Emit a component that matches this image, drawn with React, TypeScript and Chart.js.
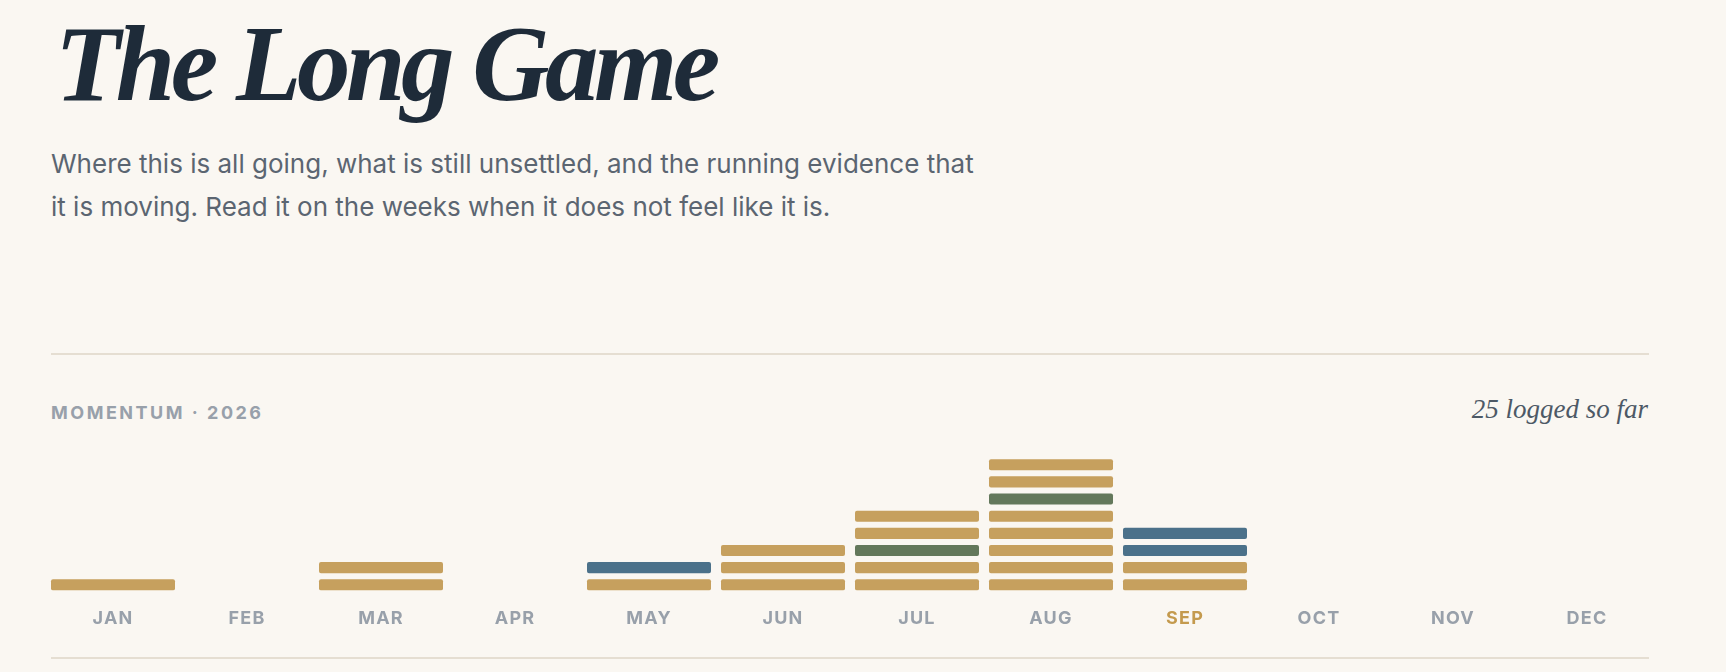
import { useEffect, useRef } from "react";
import { Chart, registerables } from "chart.js";

Chart.register(...registerables);

const months = ["JAN", "FEB", "MAR", "APR", "MAY", "JUN", "JUL", "AUG", "SEP", "OCT", "NOV", "DEC"];

// what was logged each month, bottom row first
const janEntries = ["win"];
const febEntries: string[] = [];
const marEntries = ["win", "win"];
const aprEntries: string[] = [];
const mayEntries = ["win", "decision"];
const junEntries = ["win", "win", "win"];
const julEntries = ["win", "win", "milestone", "win", "win"];
const augEntries = ["win", "win", "win", "win", "win", "milestone", "win", "win"];
const sepEntries = ["win", "win", "decision", "decision"];
const octEntries: string[] = [];
const novEntries: string[] = [];
const decEntries: string[] = [];

const entriesByMonth = [
  janEntries, febEntries, marEntries, aprEntries, mayEntries, junEntries,
  julEntries, augEntries, sepEntries, octEntries, novEntries, decEntries,
];

const currentMonth = 8; // SEP

const kindColors: Record<string, string> = {
  win: "#c6a05e",
  decision: "#4b718a",
  milestone: "#63785b",
};

const BG = "#faf7f2";
const GOLD_TEXT = "#c49a4e";
const MUTED = "#98a0aa";

const MomentumChart = () => {
  const canvasRef = useRef<HTMLCanvasElement>(null);

  useEffect(() => {
    if (!canvasRef.current) return;
    const ctx = canvasRef.current.getContext("2d");

    const maxRows = Math.max(...entriesByMonth.map((e) => e.length));
    const datasets = [];
    for (let row = 0; row < maxRows; row++) {
      datasets.push({
        label: `row ${row + 1}`,
        data: entriesByMonth.map((e) => (row < e.length ? [row, row + 0.65] : null)),
        backgroundColor: entriesByMonth.map((e) => (row < e.length ? kindColors[e[row]] : "transparent")),
        borderRadius: 2,
        borderSkipped: false,
        grouped: false,
        categoryPercentage: 1,
        barPercentage: 124 / 134,
      });
    }

    const spacing = {
      id: "letterSpacing",
      beforeDraw: (chart: Chart) => {
        (chart.ctx as any).letterSpacing = "1.2px";
      },
    };

    const chart = new Chart(ctx!, {
      type: "bar",
      data: { labels: months, datasets: datasets as any },
      options: {
        animation: false,
        responsive: true,
        maintainAspectRatio: false,
        events: [],
        layout: { padding: 0 },
        plugins: { legend: { display: false }, tooltip: { enabled: false } },
        scales: {
          x: {
            grid: { display: false, drawTicks: false },
            border: { display: false },
            ticks: {
              padding: 17,
              font: { family: "Inter", size: 18, weight: 700 },
              color: (c: any) => (c.index === currentMonth ? GOLD_TEXT : MUTED),
            },
          },
          y: { display: false, min: 0, max: 9 },
        },
      },
      plugins: [spacing],
    });

    return () => {
      chart.destroy();
    };
  }, []);

  return <canvas ref={canvasRef}></canvas>;
};

const total = entriesByMonth.reduce((s, e) => s + e.length, 0);

export default function App() {
  return (
    <div style={{ position: "fixed", inset: 0, background: BG, overflow: "hidden" }}>
      <div
        style={{
          position: "absolute",
          left: 55,
          top: 11,
          fontFamily: "'Liberation Serif', serif",
          fontStyle: "italic",
          fontWeight: 700,
          fontSize: 107,
          lineHeight: 1,
          letterSpacing: -4.5,
          color: "#1e2b39",
          whiteSpace: "nowrap",
        }}
      >
        The Long Game
      </div>
      <div
        style={{
          position: "absolute",
          left: 51,
          top: 142,
          fontFamily: "Inter, sans-serif",
          fontSize: 26,
          lineHeight: "43px",
          color: "#5b6571",
          whiteSpace: "nowrap",
        }}
      >
        Where this is all going, what is still unsettled, and the running evidence that
        <br />
        it is moving. Read it on the weeks when it does not feel like it is.
      </div>
      <div style={{ position: "absolute", left: 51, top: 353, width: 1598, height: 2, background: "#e5ded2" }} />
      <div
        style={{
          position: "absolute",
          left: 51,
          top: 404,
          fontFamily: "Inter, sans-serif",
          fontWeight: 700,
          fontSize: 18,
          lineHeight: 1,
          letterSpacing: 2.5,
          color: MUTED,
          whiteSpace: "nowrap",
        }}
      >
        MOMENTUM · 2026
      </div>
      <div
        style={{
          position: "absolute",
          right: 78,
          top: 396,
          fontFamily: "'Liberation Serif', serif",
          fontStyle: "italic",
          fontSize: 27,
          lineHeight: 1,
          color: "#4d5966",
          whiteSpace: "nowrap",
        }}
      >
        {total} logged so far
      </div>
      <div style={{ position: "absolute", left: 46, top: 436, width: 1608, height: 210 }}>
        <MomentumChart />
      </div>
      <div style={{ position: "absolute", left: 51, top: 657, width: 1598, height: 2, background: "#e5ded2" }} />
    </div>
  );
}
